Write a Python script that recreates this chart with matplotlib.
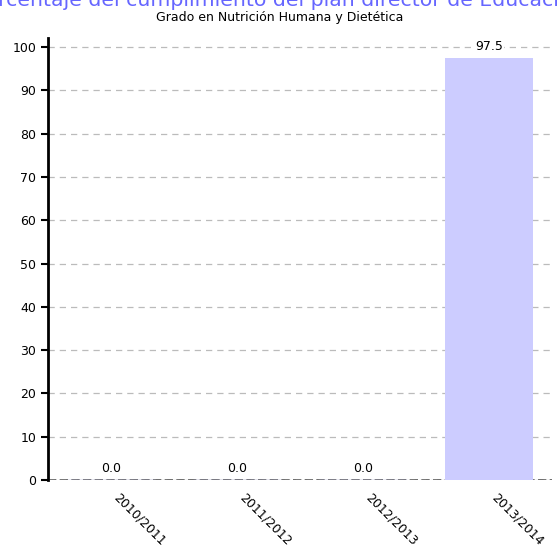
import numpy as np
import matplotlib.pyplot as plt
import matplotlib.transforms as mtransforms

categories = ["2010/2011", "2011/2012", "2012/2013", "2013/2014"]
values = [0.0, 0.0, 0.0, 97.5]
yticks = [0, 10, 20, 30, 40, 50, 60, 70, 80, 90, 100]

fig = plt.figure(figsize=(5.59, 5.52), dpi=100)
ax = fig.add_axes([0.0859, 0.1304, 0.9016, 0.8])

x = np.arange(len(categories))
edges = ["#9a9ac8" if v == 0 else "none" for v in values]
ax.bar(x, values, width=0.7, color="#ccccff", edgecolor=edges, linewidth=1.0, zorder=2)
ax.set_xlim(-0.5, len(categories) - 0.5)
ax.set_ylim(0, 102)

for xi, v in zip(x, values):
    ax.text(xi, v + 1.2, f"{v:.1f}", ha="center", va="bottom", fontsize=9,
            zorder=3, bbox=dict(facecolor="white", edgecolor="none", pad=1))

ax.set_yticks(yticks)
ax.set_yticklabels([str(t) for t in yticks], fontsize=9)
ax.yaxis.grid(True, linestyle=(0, (5, 4)), color="#bbbbbb", linewidth=0.9, zorder=0)
ax.axhline(0, color="#555555", linewidth=1.2, linestyle=(0, (5, 2)), zorder=1)

ax.set_xticks(x)
ax.set_xticklabels(categories, fontsize=9, rotation=-45, ha="left", va="top",
                   rotation_mode="anchor")
ax.tick_params(axis="x", length=0, pad=12)
ax.tick_params(axis="y", length=5, width=1.5, direction="out")
shift = mtransforms.ScaledTranslation(9 / 100, 6 / 100, fig.dpi_scale_trans)
for lab in ax.get_xticklabels():
    lab.set_transform(lab.get_transform() + shift)

for s in ["top", "right", "bottom"]:
    ax.spines[s].set_visible(False)
ax.spines["left"].set_linewidth(2)

fig.text(0.5, 1 - 6 / 552, "Porcentaje del cumplimiento del plan director de Educación",
         ha="center", va="baseline", fontsize=14.7, color="#6666ff")
fig.text(0.5, 0.969, "Grado en Nutrición Humana y Dietética", ha="center",
         va="center", fontsize=9)

fig.savefig("out.png", dpi=100)
